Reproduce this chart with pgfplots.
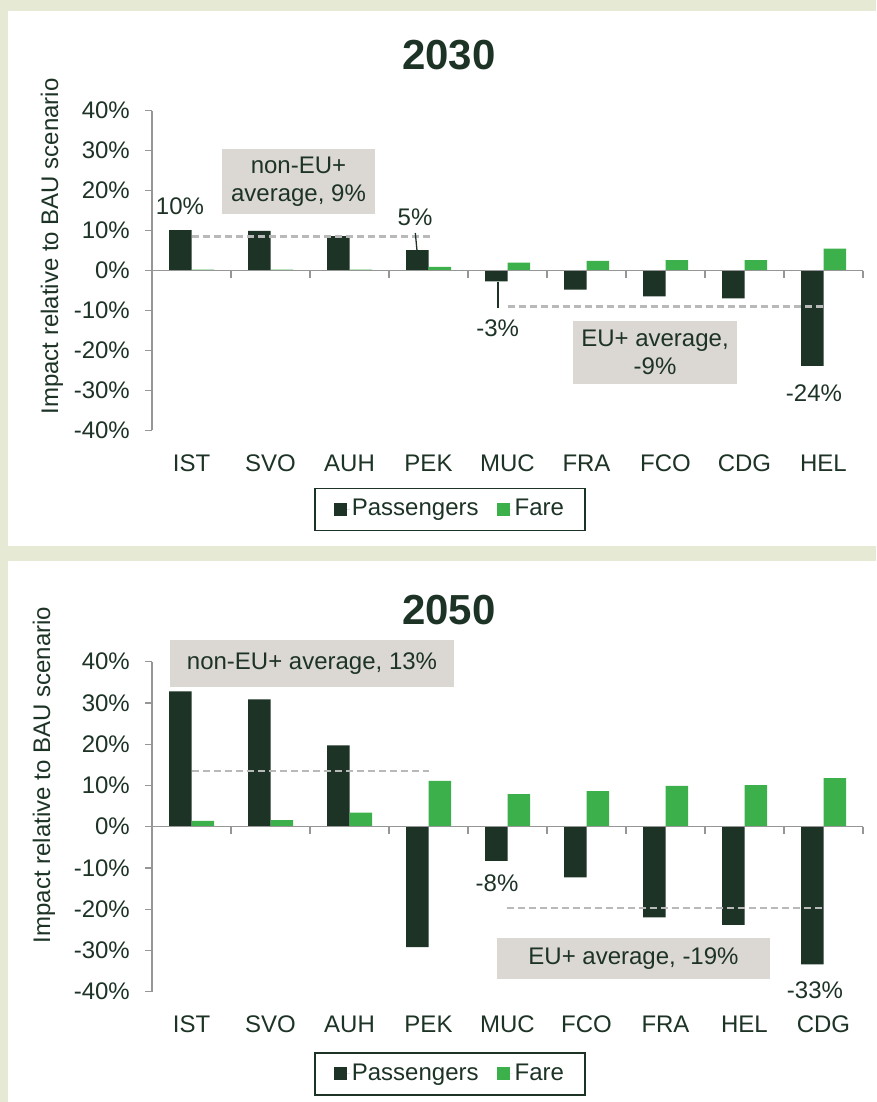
\documentclass[border=0pt]{standalone}
\usepackage{pgfplots}
\pgfplotsset{compat=1.18}
\usepackage{fontspec}
\setmainfont{Liberation Sans}
\definecolor{bg}{RGB}{230,234,212}
\definecolor{pass}{RGB}{29,51,38}
\definecolor{fare}{RGB}{60,176,74}
\definecolor{txt}{RGB}{29,51,38}
\definecolor{axgray}{RGB}{150,150,150}
\definecolor{dashgray}{RGB}{185,185,185}
\definecolor{boxgray}{RGB}{219,215,211}

\pgfplotsset{
  sqlegend/.style={legend image code/.code={\fill[##1,/tikz/.cd] (0pt,-6.5pt) rectangle (13pt,6.5pt);\path (0pt,0pt) -- (16pt,0pt);}},
  airport/.style={
    scale only axis,
    width=711pt,
    xmin=-0.5, xmax=8.5,
    ymin=-40, ymax=40,
    xtick={0,...,8},
    xticklabels={#1},
    ytick={-40,-30,...,40},
    yticklabels={-40\%,-30\%,-20\%,-10\%,0\%,10\%,20\%,30\%,40\%},
    axis lines*=left,
    separate axis lines,
    x axis line style={draw=none},
    xtick style={draw=none},
    y axis line style={axgray,line width=1.3pt},
    ytick style={axgray,line width=1.3pt},
    tick align=outside,
    major tick length=7pt,
    clip=false,
    ticklabel style={text=txt,font=\fontsize{24}{28}\selectfont},
    yticklabel style={inner sep=0pt,xshift=-15pt},
    xticklabel style={yshift=-9pt},
    legend columns=2,
    legend style={anchor=north, draw=txt, line width=1.5pt, inner xsep=19pt, inner ysep=9pt,
      /tikz/every even column/.append style={column sep=16pt},
      font=\fontsize{24}{28}\selectfont, text=txt, cells={anchor=west}},
  },
  pbar/.style={ybar, bar width=22.5pt, bar shift=-11.25pt, fill=pass, draw=none, sqlegend},
  fbar/.style={ybar, bar width=22.5pt, bar shift=11.25pt, fill=fare, draw=none, sqlegend},
  avg/.style={forget plot, dashgray, line width=2.8pt, dash pattern=on 7pt off 4pt},
}

\begin{document}
\fontsize{24}{28}\selectfont
\color{txt}
\begin{tikzpicture}
\useasboundingbox (0,0) rectangle (876pt,-1102pt);
\fill[bg] (0,0) rectangle (876pt,-1102pt);
\fill[white] (8pt,-11pt) rectangle (876pt,-546pt);
\fill[white] (8pt,-561pt) rectangle (876pt,-1102pt);

% ---------------- 2030 ----------------
\begin{axis}[airport={IST,SVO,AUH,PEK,MUC,FRA,FCO,CDG,HEL},
  height=319.6pt, at={(152pt,-430.3pt)}, anchor=south west,
  legend style={at={(axis description cs:0.419,-0.1796)}}]
\addplot[pbar] coordinates {(0,10.1) (1,9.9) (2,8.6) (3,5.1) (4,-2.7) (5,-4.8) (6,-6.5) (7,-7.0) (8,-23.9)};
\addplot[fbar] coordinates {(0,0.2) (1,0.2) (2,0.2) (3,0.9) (4,2.0) (5,2.4) (6,2.6) (7,2.6) (8,5.5)};
\legend{Passengers,Fare}
\addplot[avg] coordinates {(0,8.6) (3.03,8.6)};
\addplot[avg] coordinates {(4.0,-9.0) (8.03,-9.0)};
\draw[axgray,line width=1.3pt] (axis cs:-0.5,0) -- (axis cs:8.5,0);
\pgfplotsinvokeforeach{0.5,1.5,...,8.5}{\draw[axgray,line width=1.3pt] (axis cs:#1,0) -- ++(0pt,-7pt);}
\end{axis}

% ---------------- 2050 ----------------
\begin{axis}[airport={IST,SVO,AUH,PEK,MUC,FCO,FRA,HEL,CDG},
  height=330pt, at={(152pt,-991.7pt)}, anchor=south west,
  legend style={at={(axis description cs:0.419,-0.1827)}}]
\addplot[pbar] coordinates {(0,32.8) (1,30.9) (2,19.7) (3,-29.2) (4,-8.3) (5,-12.3) (6,-22.0) (7,-23.8) (8,-33.4)};
\addplot[fbar] coordinates {(0,1.4) (1,1.6) (2,3.4) (3,11.1) (4,7.9) (5,8.6) (6,9.9) (7,10.1) (8,11.8)};
\legend{Passengers,Fare}
\addplot[avg] coordinates {(0,13.5) (3.0,13.5)};
\addplot[avg] coordinates {(3.99,-19.7) (7.98,-19.7)};
\draw[axgray,line width=1.3pt] (axis cs:-0.5,0) -- (axis cs:8.5,0);
\pgfplotsinvokeforeach{0.5,1.5,...,8.5}{\draw[axgray,line width=1.3pt] (axis cs:#1,0) -- ++(0pt,-7pt);}
\end{axis}

% titles and y labels
\node[font=\fontsize{42}{50}\selectfont\bfseries,text=txt] at (449pt,-55pt) {2030};
\node[font=\fontsize{42}{50}\selectfont\bfseries,text=txt] at (449pt,-610pt) {2050};
\node[rotate=90,text=txt] at (52pt,-246.5pt) {Impact relative to BAU scenario};
\node[rotate=90,text=txt] at (44pt,-775pt) {Impact relative to BAU scenario};

% 2030 annotations
\node[text=txt] at (180pt,-206.7pt) {10\%};
\node[text=txt] at (415pt,-217.7pt) {5\%};
\draw[txt,line width=1.3pt] (415.3pt,-233pt) -- (417pt,-250.5pt);
\node[text=txt] at (497.7pt,-328pt) {-3\%};
\draw[txt,line width=1.3pt] (498pt,-281.5pt) -- (498pt,-308pt);
\node[text=txt] at (814pt,-393pt) {-24\%};
\node[fill=boxgray,minimum width=153pt,minimum height=64.7pt,align=center,inner sep=0pt,text=txt] at (298.5pt,-181.4pt) {non-EU+\\average, 9\%};
\node[fill=boxgray,minimum width=164pt,minimum height=63.3pt,align=center,inner sep=0pt,text=txt] at (655pt,-352.7pt) {EU+ average,\\-9\%};

% 2050 annotations
\node[fill=boxgray,minimum width=284pt,minimum height=47.3pt,inner sep=0pt,text=txt] at (312pt,-663.7pt) {non-EU+ average, 13\%};
\node[text=txt] at (497pt,-883.3pt) {-8\%};
\node[text=txt] at (815pt,-990.7pt) {-33\%};
\node[fill=boxgray,minimum width=273pt,minimum height=40.7pt,inner sep=0pt,text=txt] at (633.5pt,-958.4pt) {EU+ average, -19\%};
\end{tikzpicture}
\end{document}
